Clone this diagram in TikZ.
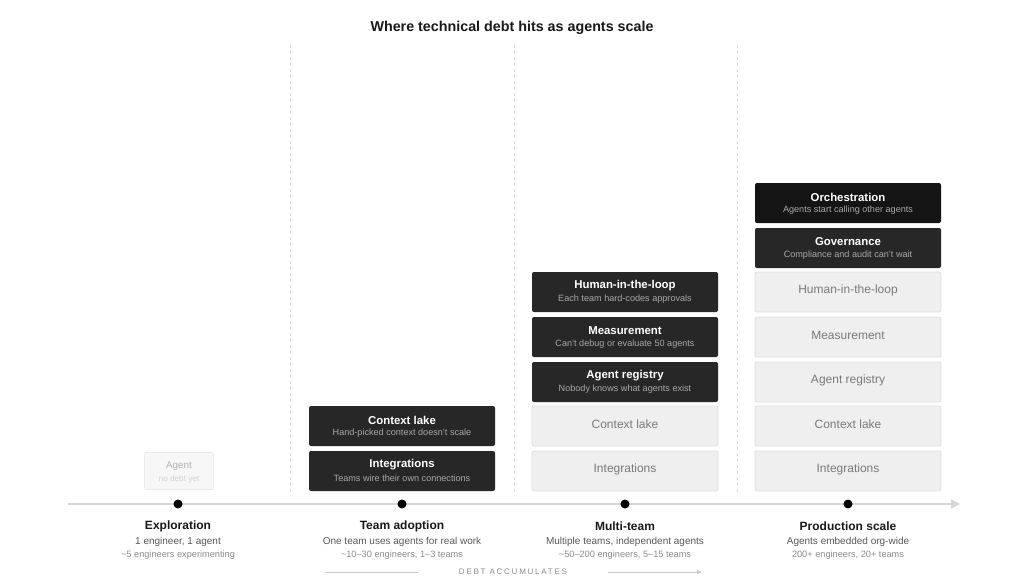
\documentclass[tikz,border=0pt]{standalone}
\usepackage{fontspec}
\setmainfont{Liberation Sans}
\usetikzlibrary{arrows.meta}
\definecolor{darkfill}{HTML}{272727}
\definecolor{blackfill}{HTML}{141414}
\definecolor{subtxt}{HTML}{A8A8A8}
\definecolor{lightfill}{HTML}{EFEFEF}
\definecolor{lightdraw}{HTML}{E0E0E0}
\definecolor{lighttxt}{HTML}{7A7A7A}
\definecolor{axis}{HTML}{D6D6D6}
\definecolor{sep}{HTML}{DCDCDC}
\tikzset{
  box/.style={rectangle, rounded corners=2pt, minimum width=186pt, minimum height=40pt, inner sep=0pt},
  darkbox/.style={box, fill=darkfill},
  blackbox/.style={box, fill=blackfill},
  lightbox/.style={box, fill=lightfill, draw=lightdraw, line width=0.8pt},
  ttl/.style={font=\fontsize{11.4}{13}\selectfont\bfseries, text=white, inner sep=0pt},
  sub/.style={font=\fontsize{9.1}{10}\selectfont, text=subtxt, inner sep=0pt},
  ltxt/.style={font=\fontsize{12}{14}\selectfont, text=lighttxt, inner sep=0pt},
  stage/.style={font=\fontsize{12}{14}\selectfont\bfseries, text=black!90, inner sep=0pt},
  stsub/.style={font=\fontsize{10}{12}\selectfont, text=black!65, inner sep=0pt},
  stsub2/.style={font=\fontsize{9.2}{10}\selectfont, text=black!45, inner sep=0pt},
  dot/.style={circle, fill=black, minimum size=9pt, inner sep=0pt},
  sepline/.style={draw=sep, line width=0.7pt, dash pattern=on 3pt off 3pt},
}
\newcommand{\dbox}[6]{%
  \node[#6] (#1) at (#2,#3) {};
  \node[ttl] (#1t) at (#2,#3-6) {#4};
  \node[sub] (#1s) at (#2,#3+7.5) {#5};
}
\newcommand{\lbox}[4]{%
  \node[lightbox] (#1) at (#2,#3) {};
  \node[ltxt] (#1t) at (#2,#3-1.5) {#4};
}
\begin{document}
\begin{tikzpicture}[x=1pt,y=-1pt]
\useasboundingbox (0,0) rectangle (1024,580);
\fill[white] (0,0) rectangle (1024,580);

% title
\node[font=\fontsize{14.3}{17}\selectfont\bfseries, text=black!90, inner sep=0pt] (title) at (512,28) {Where technical debt hits as agents scale};

% separators
\coordinate (s1a) at (290,45); \coordinate (s1b) at (290,495);
\coordinate (s2a) at (514,45); \coordinate (s2b) at (514,495);
\coordinate (s3a) at (737,45); \coordinate (s3b) at (737,495);
\draw[sepline] (s1a) -- (s1b);
\draw[sepline] (s2a) -- (s2b);
\draw[sepline] (s3a) -- (s3b);

% axis
\coordinate (ax0) at (68,504);
\coordinate (ax1) at (960,504);
\draw[draw=axis, line width=1.6pt, -{Triangle[length=9pt,width=9pt,fill=axis]}] (ax0) -- (ax1);

\node[dot] (d1) at (178,504) {};
\node[dot] (d2) at (402,504) {};
\node[dot] (d3) at (625,504) {};
\node[dot] (d4) at (848,504) {};

% stage labels
\node[stage] (l1) at (178,526) {Exploration};
\node[stsub] (l1a) at (178,541.5) {1 engineer, 1 agent};
\node[stsub2] (l1b) at (178,555.5) {\textasciitilde5 engineers experimenting};

\node[stage] (l2) at (402,526) {Team adoption};
\node[stsub] (l2a) at (402,541.5) {One team uses agents for real work};
\node[stsub2] (l2b) at (402,555.5) {\textasciitilde10–30 engineers, 1–3 teams};

\node[stage] (l3) at (625,526) {Multi-team};
\node[stsub] (l3a) at (625,541.5) {Multiple teams, independent agents};
\node[stsub2] (l3b) at (625,555.5) {\textasciitilde50–200 engineers, 5–15 teams};

\node[stage] (l4) at (848,526) {Production scale};
\node[stsub] (l4a) at (848,541.5) {Agents embedded org-wide};
\node[stsub2] (l4b) at (848,555.5) {200+ engineers, 20+ teams};

% debt accumulates
\node[font=\fontsize{8}{10}\selectfont\addfontfeatures{LetterSpace=22}, text=black!45, inner sep=0pt] (debt) at (513,571.5) {DEBT ACCUMULATES};
\coordinate (da0) at (325,572); \coordinate (da1) at (418,572);
\coordinate (db0) at (608,572); \coordinate (db1) at (702,572);
\draw[draw=black!22, line width=0.7pt] (da0) -- (da1);
\draw[draw=black!22, line width=0.7pt, -{Triangle[length=5pt,width=4pt]}] (db0) -- (db1);

% column 1
\node[rectangle, rounded corners=2pt, minimum width=69pt, minimum height=37pt, fill=black!3, draw=black!8, line width=0.7pt] (agent) at (179,471) {};
\node[font=\fontsize{9.8}{11}\selectfont, text=black!30, inner sep=0pt] (agentt) at (179,466.5) {Agent};
\node[font=\fontsize{8.2}{9}\selectfont, text=black!18, inner sep=0pt] (agents) at (179,479.5) {no debt yet};

% column 2
\dbox{c2a}{402}{471}{Integrations}{Teams wire their own connections}{darkbox}
\dbox{c2b}{402}{426}{Context lake}{Hand-picked context doesn't scale}{darkbox}

% column 3
\lbox{c3a}{625}{471}{Integrations}
\lbox{c3b}{625}{426}{Context lake}
\dbox{c3c}{625}{382}{Agent registry}{Nobody knows what agents exist}{darkbox}
\dbox{c3d}{625}{337}{Measurement}{Can't debug or evaluate 50 agents}{darkbox}
\dbox{c3e}{625}{292}{Human-in-the-loop}{Each team hard-codes approvals}{darkbox}

% column 4
\lbox{c4a}{848}{471}{Integrations}
\lbox{c4b}{848}{426}{Context lake}
\lbox{c4c}{848}{382}{Agent registry}
\lbox{c4d}{848}{337}{Measurement}
\lbox{c4e}{848}{292}{Human-in-the-loop}
\dbox{c4f}{848}{248}{Governance}{Compliance and audit can't wait}{darkbox}
\dbox{c4g}{848}{203}{Orchestration}{Agents start calling other agents}{blackbox}
\end{tikzpicture}
\end{document}
